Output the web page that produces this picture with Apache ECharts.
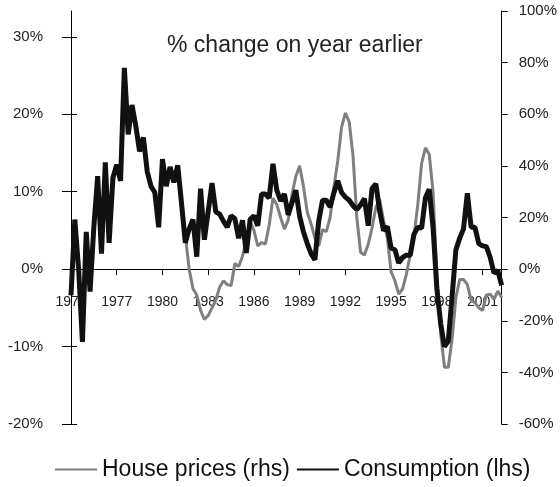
<!DOCTYPE html>
<html>
<head>
<meta charset="utf-8">
<script src="https://cdn.jsdelivr.net/npm/echarts@6/dist/echarts.min.js"></script>
<style>
  html, body { margin: 0; padding: 0; background: #fff; }
  #main { width: 560px; height: 487px; }
</style>
</head>
<body>
<div id="main"></div>
<script>
  // quarterly data, 1974 Q1 - 2002 Q2
  const startYear = 1974
  const consumption = [
    -3.4, 6.4, 0, -9.4, 4.8, -2.9, 5.5, 12, 2, 13.8, 3.4, 11.8,
    13.5, 11.4, 26, 17.4, 21.2, 18.5, 15.2, 17, 12.6, 10.7, 9.9, 5.4,
    14.2, 10.7, 13.2, 11.2, 13.4, 8.5, 3.4, 5.2, 6.4, 1.6, 10.4, 3.8,
    7.5, 11.1, 7.4, 7.1, 6.2, 5.4, 6.9, 6.5, 4, 6.3, 2.1, 6.4,
    6.9, 5.6, 9.7, 9.7, 9.2, 13.6, 10.2, 8.8, 9.7, 7, 8.6, 10.2,
    6.8, 4.8, 3.3, 2, 1.2, 6.2, 8.9, 8.9, 8, 9.9, 11.4, 9.9,
    9.3, 8.9, 8.2, 7.7, 8.3, 9.1, 5.6, 10.4, 11, 7.5, 5, 5.5,
    2.7, 2.5, 0.8, 1.5, 1.8, 1.8, 4.5, 5.4, 5.3, 9.2, 10.3, 5.4,
    -2.5, -7, -10, -9.3, -3.5, 2.5, 4, 5.2, 9.8, 5.4, 5.4, 3.3,
    3, 2.9, 1.5, -0.5, -0.2, -2.1
  ]
  const housePrices = [
    null, null, null, null, null, null, null, null, null, null, null, null,
    null, null, null, null, null, null, null, null, null, null, null, null,
    null, null, null, null, null, null, 13, 0, -7.5, -10, -16, -19.5,
    -18, -15, -12, -7, -4.5, -6, -6.4, 2.2, 1, 5, 11, 18.5,
    15, 9, 10.3, 9.7, 17, 27.5, 25, 20, 15.5, 19, 29, 36,
    40, 32, 22, 17.5, 12, 9, 15.3, 14.5, 20, 32, 42, 55,
    60.5, 57, 44, 20, 6.5, 5.5, 9.7, 16, 24, 27, 19, 12,
    -1, -4.5, -9.7, -7.7, -2, 5.5, 13, 25, 41, 47, 44.5, 30,
    -2, -25, -38, -38, -27, -11, -4, -4, -6, -12, -13, -15,
    -16, -10, -9.7, -11.6, -8.5, -11
  ]
  const leftTicks = [-20, -10, 0, 10, 20, 30]

  const quarters = []
  for (let i = 0; i < consumption.length; i++) {
    quarters.push((startYear + Math.floor(i / 4)) + ' Q' + (i % 4 + 1))
  }

  const font = 'Liberation Sans'
  const gridTop = 11
  const gridBottom = 63
  const leftMin = -20
  const leftMax = 100 / 3
  // the year axis sits on the zero line
  const plotHeight = 487 - gridTop - gridBottom
  const zeroOffset = -plotHeight * (0 - leftMin) / (leftMax - leftMin)

  const chart = echarts.init(document.getElementById('main'))
  chart.setOption({
    animation: false,
    title: {
      text: '% change on year earlier',
      left: 162,
      top: 29,
      textStyle: { fontFamily: font, fontSize: 23, fontWeight: 'normal', color: '#222' }
    },
    legend: {
      left: 49,
      top: 453,
      itemWidth: 42,
      itemHeight: 14,
      itemGap: 6,
      itemStyle: { opacity: 0 },
      textStyle: { fontFamily: font, fontSize: 23, color: '#111' },
      data: ['House prices (rhs)', 'Consumption (lhs)']
    },
    grid: { left: 71, right: 55, top: gridTop, bottom: gridBottom },
    xAxis: {
      type: 'category',
      data: quarters,
      boundaryGap: false,
      offset: zeroOffset,
      axisLine: { onZero: false, lineStyle: { color: '#000', width: 1 } },
      axisTick: { interval: 11, length: 6, lineStyle: { color: '#000' } },
      axisLabel: {
        interval: 11,
        margin: 26,
        fontFamily: font,
        fontSize: 14,
        color: '#222',
        formatter: v => v.slice(0, 4)
      },
      splitLine: { show: false }
    },
    yAxis: [
      {
        type: 'value',
        position: 'left',
        min: leftMin,
        max: leftMax,
        axisLine: { show: true, lineStyle: { color: '#000' } },
        axisTick: { show: true, length: 9, customValues: leftTicks, lineStyle: { color: '#000' } },
        axisLabel: {
          margin: 28,
          fontFamily: font,
          fontSize: 15,
          color: '#222',
          customValues: leftTicks,
          formatter: v => v + '%'
        },
        splitLine: { show: false }
      },
      {
        type: 'value',
        position: 'right',
        min: -60,
        max: 100,
        interval: 20,
        axisLine: { show: true, lineStyle: { color: '#000' } },
        axisTick: { show: true, length: 6, lineStyle: { color: '#000' } },
        axisLabel: {
          margin: 17,
          fontFamily: font,
          fontSize: 15,
          color: '#222',
          formatter: v => v + '%'
        },
        splitLine: { show: false }
      },
      {
        // inner half of the left ticks
        type: 'value',
        position: 'left',
        min: leftMin,
        max: leftMax,
        axisLine: { show: false },
        axisTick: { show: true, inside: true, length: 6, customValues: leftTicks, lineStyle: { color: '#000' } },
        axisLabel: { show: false },
        splitLine: { show: false }
      }
    ],
    series: [
      {
        name: 'House prices (rhs)',
        type: 'line',
        yAxisIndex: 1,
        data: housePrices,
        symbol: 'none',
        lineStyle: { color: '#7f7f7f', width: 3 },
        itemStyle: { color: '#7f7f7f' }
      },
      {
        name: 'Consumption (lhs)',
        type: 'line',
        yAxisIndex: 0,
        data: consumption,
        symbol: 'none',
        lineStyle: { color: '#111', width: 5 },
        itemStyle: { color: '#111' }
      }
    ]
  })
</script>
</body>
</html>
